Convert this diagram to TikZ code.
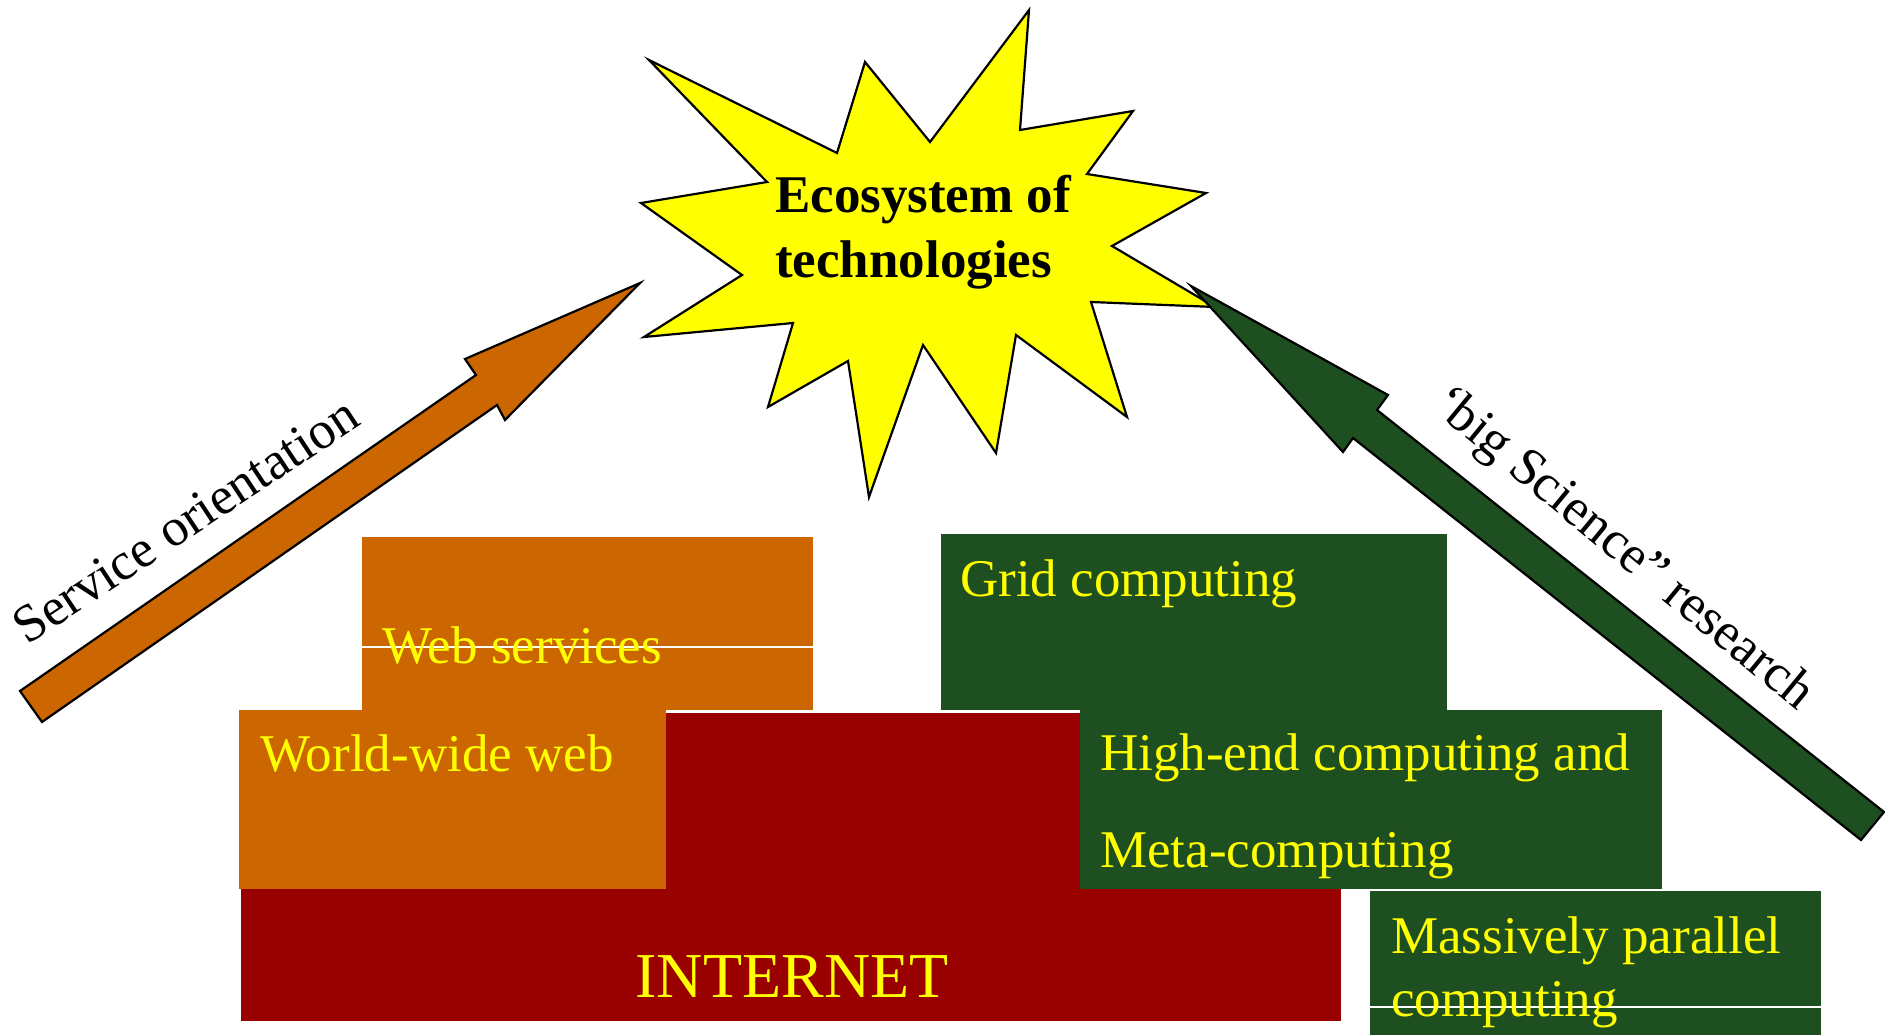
\documentclass[tikz,border=0pt]{standalone}
\usepackage{fontspec}
\setmainfont{Liberation Serif}
\definecolor{orng}{HTML}{CC6600}
\definecolor{dred}{HTML}{990000}
\definecolor{dgrn}{HTML}{1E4F20}
\definecolor{ylw}{HTML}{FFFF00}
\begin{document}
\begin{tikzpicture}[x=1pt,y=-1pt,
  blk/.style={inner sep=0pt, outer sep=0pt, draw=none, anchor=north west},
  lbl/.style={text=ylw, anchor=base west, inner sep=0pt, font=\fontsize{53}{60}\selectfont},
  side/.style={text=black, anchor=base, inner sep=0pt, font=\fontsize{53}{60}\selectfont},
  shapeline/.style={draw=black, line width=2.2pt, line join=miter},
  sep/.style={draw=white, line width=1.2pt}]
\useasboundingbox (0,0) rectangle (1885,1035);

% star
\filldraw[shapeline, fill=ylw]
  (649,60) -- (837,153) -- (865,62) -- (930,142) -- (1029,10) -- (1020,130)
  -- (1133,111) -- (1087,174) -- (1206,193) -- (1112,246) -- (1215,307)
  -- (1091,302) -- (1127,417) -- (1016,335) -- (996,453) -- (923,345)
  -- (869,497) -- (848,361) -- (768,407) -- (793,323) -- (644,337)
  -- (742,275) -- (641,203) -- (767,182) -- cycle;
\node[anchor=base west, inner sep=0pt, font=\fontsize{53}{60}\selectfont\bfseries] (eco1) at (775,213) {Ecosystem of};
\node[anchor=base west, inner sep=0pt, font=\fontsize{53}{60}\selectfont\bfseries] (eco2) at (775,277) {technologies};

% arrows
\filldraw[shapeline, fill=orng]
  (20,691) -- (476,375) -- (465,359) -- (640,283) -- (505,420) -- (497,405) -- (42,722) -- cycle;
\filldraw[shapeline, fill=dgrn]
  (1191,286) -- (1388,395) -- (1377,410) -- (1884,812) -- (1861,840) -- (1353,438) -- (1343,452) -- cycle;
\node[side, rotate=33.5] (svc) at (195,535) {Service orientation};
\node[side, rotate=-39.5] (sci) at (1614,560) {‘big Science” research};

% blocks
\node[blk, fill=dred, minimum width=1100pt, minimum height=308pt] (internet) at (241,713) {};
\node[blk, fill=orng, minimum width=427pt, minimum height=179pt] (www) at (239,710) {};
\node[blk, fill=orng, minimum width=451pt, minimum height=173pt] (ws) at (362,537) {};
\node[blk, fill=dgrn, minimum width=506pt, minimum height=176pt] (grid) at (941,534) {};
\node[blk, fill=dgrn, minimum width=582pt, minimum height=179pt] (high) at (1080,710) {};
\node[blk, fill=dgrn, minimum width=451pt, minimum height=144pt] (mpp) at (1370,891) {};

\draw[sep] (362,647) -- (813,647);
\draw[sep] (1370,1007) -- (1821,1007);

\node[lbl] (tws) at (382,663) {Web services};
\node[lbl] (twww) at (260,771) {World-wide web};
\node[lbl] (tgrid) at (960,596) {Grid computing};
\node[lbl] (thigh1) at (1100,770) {High-end computing and};
\node[lbl] (thigh2) at (1100,867) {Meta-computing};
\node[lbl] (tmpp1) at (1391,953) {Massively parallel};
\node[lbl] (tmpp2) at (1391,1016) {computing};
\node[lbl, anchor=base, font=\fontsize{64}{70}\selectfont] (tnet) at (792,997) {INTERNET};
\end{tikzpicture}
\end{document}
